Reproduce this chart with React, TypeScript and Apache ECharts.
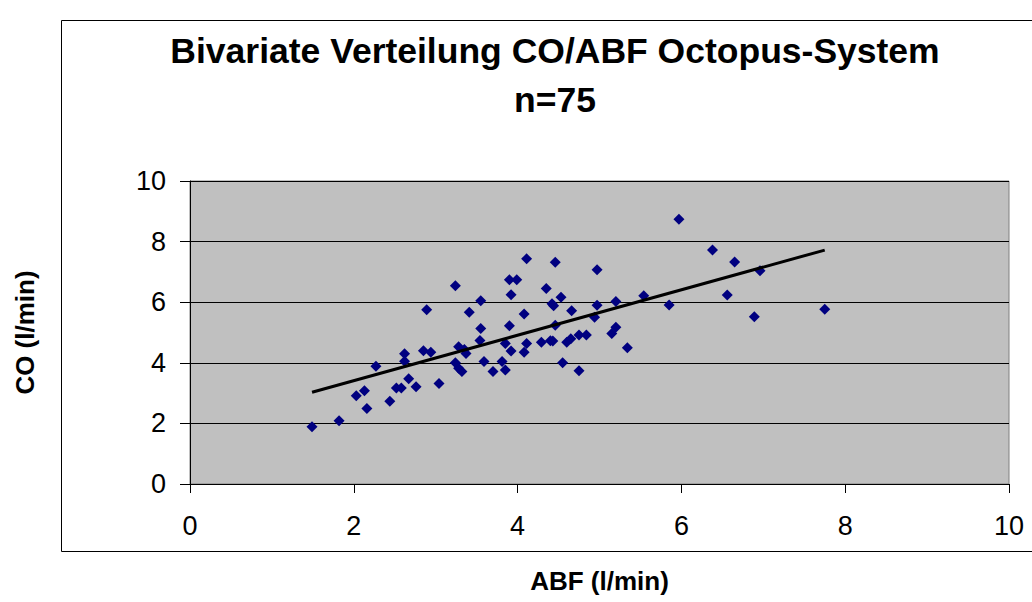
import React, { useEffect, useRef } from "react";
import * as echarts from "echarts";

const titleLines = ["Bivariate Verteilung CO/ABF Octopus-System", "n=75"];
const xAxisTitle = "ABF (l/min)";
const yAxisTitle = "CO (l/min)";

const abf = [
  1.49, 1.82, 2.03, 2.13, 2.16, 2.27, 2.44, 2.52, 2.58, 2.62, 2.62, 2.67, 2.76, 2.89, 2.85, 2.94, 3.04,
  3.24, 3.28, 3.24, 3.28, 3.32, 3.35, 3.37, 3.41, 3.55, 3.55, 3.54, 3.59, 3.70, 3.81, 3.85, 3.85, 3.92,
  3.90, 3.90, 3.99, 3.92, 4.08, 4.08, 4.11, 4.11,
  4.46, 4.35, 4.42, 4.44, 4.53, 4.66, 4.46, 4.29, 4.40, 4.43, 4.60, 4.65, 4.75, 4.84, 4.55, 4.75,
  4.97, 4.97, 4.94, 5.15, 5.20, 5.20, 5.34, 5.54,
  5.85, 5.97, 6.38, 6.65, 6.56, 6.96, 6.89, 7.75,
];
const co = [
  1.89, 2.09, 2.91, 3.08, 2.49, 3.89, 2.73, 3.17, 3.17, 4.30, 4.05, 3.47, 3.21, 5.75, 4.40, 4.35, 3.32,
  6.54, 4.53, 4.00, 3.82, 3.71, 4.44, 4.31, 5.67, 6.05, 5.13, 4.74, 4.04, 3.71, 4.04, 3.76, 4.64, 4.39,
  5.22, 6.74, 6.74, 6.25, 5.61, 4.35, 4.64, 7.43,
  7.32, 6.45, 5.95, 5.88, 6.16, 5.72, 5.24, 4.68, 4.73, 4.72, 4.68, 4.79, 4.92, 4.92, 4.00, 3.74,
  7.07, 5.90, 5.50, 4.97, 5.17, 6.02, 4.50, 6.21,
  5.91, 8.74, 7.72, 7.33, 6.24, 7.04, 5.52, 5.77,
];
const trendX = [1.49, 7.75];
const trendY = [3.03, 7.72];
const axisTicks = [0, 2, 4, 6, 8, 10];

const FONT = "'Liberation Sans', Arial, sans-serif";

export default function App() {
  const ref = useRef<HTMLDivElement>(null);
  useEffect(() => {
    if (!ref.current) return;
    const chart = echarts.init(ref.current, undefined, { renderer: "svg" });
    const points = abf.map((x, i) => [x, co[i]]);
    const trend = trendX.map((x, i) => [x, trendY[i]]);
    chart.setOption({
      animation: false,
      backgroundColor: "#ffffff",
      textStyle: { fontFamily: FONT },
      graphic: [
        {
          type: "rect",
          shape: { x: 61.5, y: 20.5, width: 1000, height: 531 },
          style: { fill: "none", stroke: "#000", lineWidth: 1 },
          silent: true,
          z: -10,
        },
        {
          type: "text",
          x: 555,
          y: 51,
          style: {
            text: titleLines[0],
            font: `bold 35.5px ${FONT}`,
            fill: "#000",
            textAlign: "center",
            textVerticalAlign: "middle",
          },
        },
        {
          type: "text",
          x: 555,
          y: 100,
          style: {
            text: titleLines[1],
            font: `bold 35.5px ${FONT}`,
            fill: "#000",
            textAlign: "center",
            textVerticalAlign: "middle",
          },
        },
      ],
      grid: {
        left: 190,
        top: 181,
        right: 23,
        bottom: 118,
        show: true,
        backgroundColor: "#c0c0c0",
        borderColor: "#808080",
        borderWidth: 1,
        containLabel: false,
        outerBoundsMode: "none",
      },
      xAxis: {
        type: "value",
        min: axisTicks[0],
        max: axisTicks[axisTicks.length - 1],
        interval: 2,
        name: xAxisTitle,
        nameLocation: "middle",
        nameGap: 84,
        nameTextStyle: { fontFamily: FONT, fontSize: 26, fontWeight: "bold", color: "#000" },
        axisLine: { show: true, lineStyle: { color: "#000", width: 1 } },
        axisTick: { show: true, length: 9, inside: false, lineStyle: { color: "#000" } },
        axisLabel: { fontFamily: FONT, fontSize: 27, color: "#000", margin: 28 },
        splitLine: { show: false },
      },
      yAxis: {
        type: "value",
        min: axisTicks[0],
        max: axisTicks[axisTicks.length - 1],
        interval: 2,
        name: yAxisTitle,
        nameLocation: "middle",
        nameGap: 152,
        nameRotate: 90,
        nameTextStyle: { fontFamily: FONT, fontSize: 26, fontWeight: "bold", color: "#000" },
        axisLine: { show: true, lineStyle: { color: "#000", width: 1 } },
        axisTick: { show: true, length: 10, inside: false, lineStyle: { color: "#000" } },
        axisLabel: { fontFamily: FONT, fontSize: 27, color: "#000", margin: 24 },
        splitLine: { show: true, lineStyle: { color: "#000", width: 1 } },
      },
      series: [
        {
          type: "scatter",
          data: points,
          symbol: "diamond",
          symbolSize: 11,
          itemStyle: { color: "#000080", opacity: 1 },
          z: 3,
        },
        {
          type: "line",
          data: trend,
          symbol: "none",
          lineStyle: { color: "#000", width: 3 },
          z: 4,
        },
      ],
    });
    return () => chart.dispose();
  }, []);
  return (
    <div
      ref={ref}
      style={{ position: "fixed", left: 0, top: 0, width: 1032, height: 602, background: "#fff" }}
    />
  );
}
